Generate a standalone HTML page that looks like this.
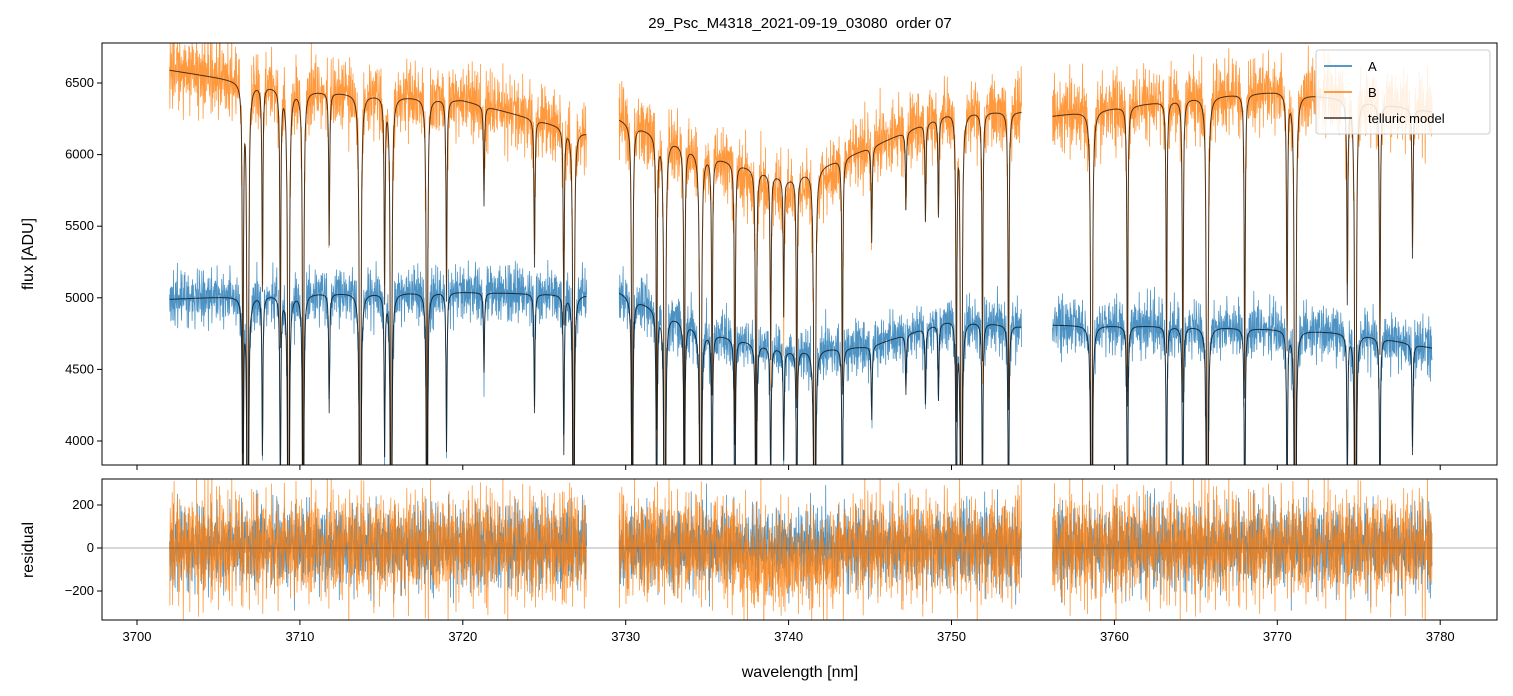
<!DOCTYPE html>
<html><head><meta charset="utf-8">
<style>
html,body{margin:0;padding:0;background:#fff;overflow:hidden;width:1513px;height:696px;position:relative;}
svg{display:block;position:absolute;left:0;top:0;font-family:"Liberation Sans","DejaVu Sans",sans-serif;}
</style></head>
<body>
<svg id="fig" width="1513" height="696" viewBox="0 0 1513 696">
<defs>
<clipPath id="clipTop"><rect x="102" y="43" width="1395" height="422"/></clipPath>
<clipPath id="clipBot"><rect x="102" y="479" width="1395" height="141"/></clipPath>
</defs>
<text x="800" y="28" text-anchor="middle" font-size="15" fill="#000">29_Psc_M4318_2021-09-19_03080 &#160;order 07</text>
<g id="topPlot" clip-path="url(#clipTop)"></g>
<g id="botPlot" clip-path="url(#clipBot)"></g>
<g id="axes"></g>
<text x="800" y="677" text-anchor="middle" font-size="16">wavelength [nm]</text>
<text transform="translate(33,254) rotate(-90)" text-anchor="middle" font-size="16">flux [ADU]</text>
<text transform="translate(33,550) rotate(-90)" text-anchor="middle" font-size="16">residual</text>
<g>
<rect x="1316" y="50" width="174" height="84" rx="3" fill="#fff" fill-opacity="0.85" stroke="#ccc"/>
<line x1="1324" y1="66" x2="1352" y2="66" stroke="#1f77b4" stroke-width="1.5"/>
<text x="1368" y="71" font-size="13">A</text>
<line x1="1324" y1="92" x2="1352" y2="92" stroke="#ff7f0e" stroke-width="1.5"/>
<text x="1368" y="97" font-size="13">B</text>
<line x1="1324" y1="118" x2="1352" y2="118" stroke="#333" stroke-width="1.5"/>
<text x="1368" y="123" font-size="13">telluric model</text>
</g>
</svg>
<script>
// ---- data ----
const segments=[[3702.0,3727.6],[3729.6,3754.3],[3756.2,3779.5]];
const lineCenters=[3706.5,3706.8,3707.7,3708.8,3709.3,3710.2,3711.8,3713.7,3715.2,3715.6,3717.8,3719.0,3721.3,3724.4,3726.2,3726.8,3730.4,3731.9,3732.4,3733.6,3734.6,3735.3,3736.7,3738.0,3738.9,3739.7,3740.5,3741.6,3743.3,3745.1,3747.2,3748.4,3749.2,3750.3,3750.6,3751.9,3753.5,3758.6,3760.8,3763.2,3764.2,3765.7,3768.0,3770.6,3771.1,3774.3,3774.8,3776.3,3778.3];
const lineDepths=[0.35,0.9,0.2,0.25,0.9,0.6,0.15,0.9,0.2,0.8,0.6,0.2,0.1,0.15,0.2,0.7,0.5,0.3,0.9,0.35,0.9,0.25,0.3,0.4,0.2,0.15,0.25,0.95,0.25,0.1,0.08,0.1,0.1,0.3,0.9,0.25,0.3,0.9,0.3,0.25,0.3,0.95,0.3,0.25,0.95,0.2,0.9,0.25,0.15];
const contKnots=[3702,3710,3720,3727.6,3729.6,3735,3740,3745,3750,3754.3,3756.2,3765,3770,3775,3779.5];
const contB=[6590,6450,6380,6150,6250,6000,5830,6050,6300,6300,6270,6400,6440,6380,6300];
const contA=[4990,5030,5040,5020,5040,4760,4630,4660,4850,4800,4810,4800,4780,4750,4650];
const noiseP=[0.3,-0.8,1.2,-0.2,0.6,-1.5,0.1,0.9,-0.4,-1.1,1.6,0.2,-0.6,0.4,-0.1,1.0,-1.3,0.7,-0.3,0.05,1.4,-0.9,0.5,-0.5,0.2,-1.8,0.8,-0.2,1.1,-0.7,0.35,-0.05,1.9,-1.2,0.15,-0.45,0.65,-0.95,1.25,-0.15,0.45,-1.6,0.25,0.85,-0.35,-0.75,1.5,-0.25,0.55,-1.05,0.1,0.95,-1.4,0.4,-0.6,1.3,-0.1,0.7,-0.85,0.2,-0.3];
const noiseQ=[-0.4,1.1,-0.9,0.3,1.7,-0.2,-1.2,0.6,0.1,-0.7,0.9,-1.5,0.4,0.2,-0.3,1.3,-1.0,0.5,-0.6,0.8,-0.1,1.6,-1.3,0.3,-0.8,0.7,0.0,-1.1,1.2,-0.5,0.45,-1.7,0.9,0.15,-0.35,1.05,-0.65,0.25,-1.25,0.55,1.4,-0.45,0.05,-0.95,0.75,-0.15,1.0];
const xTicks=[3700,3710,3720,3730,3740,3750,3760,3770,3780];
const yTicksTop=[4000,4500,5000,5500,6000,6500];
const yTicksBot=[-200,0,200];
// ---- scales ----
const X=w=>137+(w-3700)*16.29;
const YT=v=>441-(v-4000)*0.1432;
const YB=v=>548-v*0.215;
function interp(k,v,w){for(let i=0;i<k.length-1;i++){if(w<=k[i+1])return v[i]+(v[i+1]-v[i])*(w-k[i])/(k[i+1]-k[i]);}return v[v.length-1];}
function trans(w){let s=0;for(let i=0;i<lineCenters.length;i++){const d=(w-lineCenters[i])/0.035;s+=lineDepths[i]*1.1/(1+d*d);}return Math.max(0,1-s);}
function noise(i,o){return noiseP[(i+o)%noiseP.length]*0.6+noiseQ[(i*3+o)%noiseQ.length]*0.5;}
const NS="http://www.w3.org/2000/svg";
function poly(g,pts,col,w,op,name){const p=document.createElementNS(NS,'polyline');p.setAttribute('points',pts.join(' '));p.setAttribute('fill','none');p.setAttribute('stroke',col);p.setAttribute('stroke-width',w);p.setAttribute('stroke-opacity',op);p.setAttribute('stroke-linejoin','round');


g.appendChild(p);}
const topG=document.getElementById('topPlot'),botG=document.getElementById('botPlot');
const step=0.02;let idx=0;
const segData=segments.map(([a,b])=>{const arr=[];for(let w=a;w<=b;w+=step){idx++;const t=trans(w);const cA=interp(contKnots,contA,w),cB=interp(contKnots,contB,w);
const rA=noise(idx,7)*150,rB=noise(idx,23)*200+((w>3737&&w<3743)?-80:0);
arr.push({w,mA:cA*t,mB:cB*t,dA:cA*t+rA,dB:cB*t+rB,rA:rA,rB:rB});}return arr;});
segData.forEach((s,k)=>{
poly(topG,s.map(p=>X(p.w).toFixed(1)+','+YT(p.dA).toFixed(1)),'#1f77b4',0.8,0.8,'series-a-'+k);
poly(topG,s.map(p=>X(p.w).toFixed(1)+','+YT(p.dB).toFixed(1)),'#ff7f0e',0.8,0.8,'series-b-'+k);
poly(topG,s.map(p=>X(p.w).toFixed(1)+','+YT(p.mA).toFixed(1)),'#000',1,0.7,'model-a-'+k);
poly(topG,s.map(p=>X(p.w).toFixed(1)+','+YT(p.mB).toFixed(1)),'#000',1,0.7,'model-b-'+k);
poly(botG,s.map(p=>X(p.w).toFixed(1)+','+YB(p.rA).toFixed(1)),'#1f77b4',0.8,0.8,'residual-a-'+k);
poly(botG,s.map(p=>X(p.w).toFixed(1)+','+YB(p.rB).toFixed(1)),'#ff7f0e',0.8,0.8,'residual-b-'+k);
});
const zl=document.createElementNS(NS,'line');zl.setAttribute('x1',102);zl.setAttribute('x2',1497);zl.setAttribute('y1',YB(0));zl.setAttribute('y2',YB(0));zl.setAttribute('stroke','#000');zl.setAttribute('stroke-width',0.6);zl.setAttribute('stroke-opacity',0.6);


botG.appendChild(zl);
const ax=document.getElementById('axes');
function el(tag,attrs,txt){const e=document.createElementNS(NS,tag);for(const k in attrs)e.setAttribute(k,attrs[k]);if(txt!==undefined)e.textContent=txt;ax.appendChild(e);return e;}
const f1=el('rect',{x:102,y:43,width:1395,height:422,fill:'none',stroke:'#000','stroke-width':1});


const f2=el('rect',{x:102,y:479,width:1395,height:141,fill:'none',stroke:'#000','stroke-width':1});


xTicks.forEach(v=>{const x=X(v);
el('line',{x1:x,x2:x,y1:465,y2:470,stroke:'#000'});
el('line',{x1:x,x2:x,y1:620,y2:625,stroke:'#000'});
const t=el('text',{x:x,y:641,'text-anchor':'middle','font-size':13},v);

});
yTicksTop.forEach(v=>{const y=YT(v);el('line',{x1:97,x2:102,y1:y,y2:y,stroke:'#000'});
const t=el('text',{x:94,y:y+4,'text-anchor':'end','font-size':13},v);

});
yTicksBot.forEach(v=>{const y=YB(v);el('line',{x1:97,x2:102,y1:y,y2:y,stroke:'#000'});
const t=el('text',{x:94,y:y+4,'text-anchor':'end','font-size':13},v<0?'\u2212'+(-v):v);

});
</script>
</body></html>
